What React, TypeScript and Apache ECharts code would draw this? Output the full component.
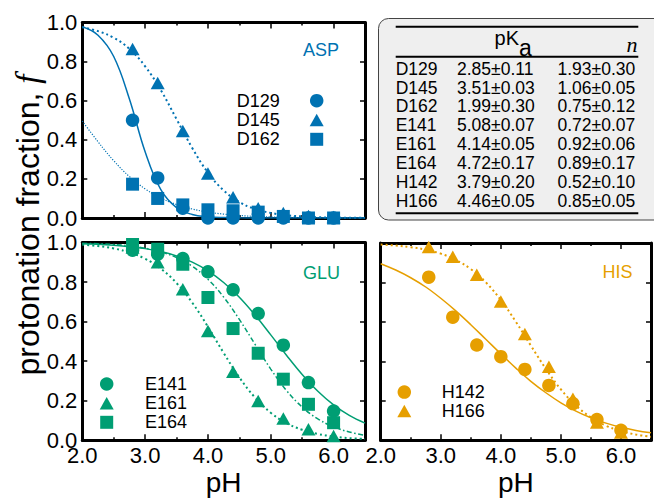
import React, { useEffect, useRef } from 'react';
import * as echarts from 'echarts';

const BLUE = '#0072B2';
const GREEN = '#009E73';
const ORANGE = '#E69F00';
const FONT = '"Liberation Sans", Arial, Helvetica, sans-serif';
const SERIF = '"Liberation Serif", "DejaVu Serif", serif';

// measured pH values of the data points
const phPts = [2.8, 3.2, 3.6, 4.0, 4.4, 4.8, 5.2, 5.6, 6.0];

// ASP
const d129 = [0.5, 0.205, 0.05, 0.0, 0.0, 0.0, 0.0, 0.0, 0.0];
const d145 = [0.865, 0.69, 0.445, 0.227, 0.106, 0.05, 0.025, 0.01, 0.005];
const d162 = [0.173, 0.1, 0.067, 0.042, 0.037, 0.03, 0.008, 0.0, 0.0];
// GLU
const e141 = [0.961, 0.941, 0.919, 0.852, 0.761, 0.641, 0.481, 0.292, 0.148];
const e161 = [0.975, 0.9, 0.764, 0.553, 0.346, 0.199, 0.11, 0.056, 0.022];
const e164 = [0.99, 0.966, 0.89, 0.722, 0.565, 0.44, 0.309, 0.182, 0.089];
// HIS
const h142 = [0.827, 0.624, 0.483, 0.424, 0.359, 0.278, 0.186, 0.105, 0.051];
const h166 = [0.98, 0.93, 0.839, 0.703, 0.539, 0.373, 0.21, 0.09, 0.04];

// fitted curves, read along the pH grid
const fitPH = [2.0, 2.25, 2.5, 2.75, 3.0, 3.25, 3.5, 3.75, 4.0, 4.25, 4.5, 4.75, 5.0, 5.25, 5.5, 5.75, 6.0, 6.25, 6.5];
const d129Fit = [0.978, 0.935, 0.826, 0.609, 0.339, 0.145, 0.053, 0.018, 0.006, 0.002, 0.001, 0.0003, 0.0001, 0, 0, 0, 0, 0, 0];
const d145Fit = [0.976, 0.956, 0.922, 0.865, 0.776, 0.654, 0.506, 0.358, 0.232, 0.141, 0.082, 0.046, 0.026, 0.014, 0.008, 0.004, 0.002, 0.001, 0.001];
const d162Fit = [0.496, 0.39, 0.293, 0.212, 0.149, 0.102, 0.069, 0.046, 0.03, 0.02, 0.013, 0.008, 0.0055, 0.0036, 0.0023, 0.0015, 0.001, 0.0006, 0.0004];
const e141Fit = [0.994, 0.991, 0.986, 0.979, 0.969, 0.954, 0.932, 0.901, 0.857, 0.798, 0.723, 0.633, 0.533, 0.43, 0.333, 0.248, 0.179, 0.126, 0.087];
const e161Fit = [0.989, 0.982, 0.97, 0.95, 0.918, 0.868, 0.795, 0.696, 0.574, 0.442, 0.318, 0.216, 0.139, 0.087, 0.053, 0.032, 0.019, 0.011, 0.007];
const e164Fit = [0.996, 0.994, 0.99, 0.983, 0.971, 0.953, 0.924, 0.88, 0.814, 0.724, 0.611, 0.485, 0.36, 0.252, 0.168, 0.108, 0.068, 0.042, 0.025];
const h142Fit = [0.895, 0.863, 0.824, 0.777, 0.72, 0.656, 0.586, 0.512, 0.438, 0.366, 0.299, 0.241, 0.19, 0.148, 0.114, 0.087, 0.066, 0.05, 0.038];
const h166Fit = [0.992, 0.987, 0.979, 0.966, 0.946, 0.914, 0.868, 0.801, 0.711, 0.601, 0.48, 0.362, 0.258, 0.176, 0.116, 0.074, 0.047, 0.029, 0.018];

// table
const tableNames = ['D129', 'D145', 'D162', 'E141', 'E161', 'E164', 'H142', 'H166'];
const tablePKa = ['2.85±0.11', '3.51±0.03', '1.99±0.30', '5.08±0.07', '4.14±0.05', '4.72±0.17', '3.79±0.20', '4.46±0.05'];
const tableN = ['1.93±0.30', '1.06±0.05', '0.75±0.12', '0.72±0.07', '0.92±0.06', '0.89±0.17', '0.52±0.10', '0.85±0.05'];

const pairs = (xs: number[], ys: number[]) => xs.map((x, i) => [x, ys[i]]);

const GRIDS = [
  { left: 82.3, top: 22.5, width: 282.7, height: 195.5 },
  { left: 82.3, top: 242.5, width: 282.7, height: 197.8 },
  { left: 380.7, top: 243, width: 282.7, height: 197.3 },
];

function xAxis(gridIndex: number, position: string, labels: boolean) {
  return {
    type: 'value',
    gridIndex,
    position,
    min: 2,
    max: 6.5,
    interval: 1,
    axisLine: { show: true, onZero: false, lineStyle: { color: '#000', width: 3 } },
    axisTick: { show: true, inside: true, length: 6, lineStyle: { color: '#000', width: 1.5 } },
    minorTick: { show: true, splitNumber: 2, length: 3, lineStyle: { color: '#000', width: 1.5 } },
    splitLine: { show: false },
    minorSplitLine: { show: false },
    axisLabel: {
      show: labels,
      margin: 7,
      fontSize: 22,
      lineHeight: 16,
      color: '#000',
      fontFamily: FONT,
      formatter: (v: number) => (Math.abs(v - Math.round(v)) < 1e-9 ? v.toFixed(1) : ''),
    },
    name: labels ? 'pH' : '',
    nameLocation: 'middle',
    nameGap: 28,
    nameTextStyle: { fontSize: 28, color: '#000', fontFamily: FONT },
  };
}

function yAxis(gridIndex: number, position: string, labels: boolean) {
  return {
    type: 'value',
    gridIndex,
    position,
    min: 0,
    max: 1,
    interval: 0.2,
    axisLine: { show: true, onZero: false, lineStyle: { color: '#000', width: 3 } },
    axisTick: { show: true, inside: true, length: 5, lineStyle: { color: '#000', width: 1.5 } },
    splitLine: { show: false },
    axisLabel: {
      show: labels,
      margin: 5,
      fontSize: 22,
      lineHeight: 14,
      color: '#000',
      fontFamily: FONT,
      formatter: (v: number) => v.toFixed(1),
    },
  };
}

function curve(ax: number, ys: number[], color: string, type: any, width: number) {
  return {
    type: 'line',
    xAxisIndex: ax * 2,
    yAxisIndex: ax * 2,
    data: pairs(fitPH, ys),
    showSymbol: false,
    symbol: 'none',
    smooth: 0.4,
    lineStyle: { color, width, type, cap: 'butt' },
    z: 2,
    silent: true,
  };
}

function points(ax: number, ys: number[], color: string, symbol: string, size: any, z: number) {
  return {
    type: 'scatter',
    xAxisIndex: ax * 2,
    yAxisIndex: ax * 2,
    data: pairs(phPts, ys),
    symbol,
    symbolSize: size,
    itemStyle: { color, opacity: 1 },
    z,
  };
}

const CIRCLE = 13.5;
const SQUARE = 13;
const TRI: [number, number] = [14, 12.5];

function legendMarker(kind: string, cx: number, cy: number, color: string) {
  if (kind === 'circle') return { type: 'circle', shape: { cx, cy, r: CIRCLE / 2 }, style: { fill: color } };
  if (kind === 'rect')
    return { type: 'rect', shape: { x: cx - SQUARE / 2, y: cy - SQUARE / 2, width: SQUARE, height: SQUARE }, style: { fill: color } };
  return {
    type: 'polygon',
    shape: { points: [[cx, cy - TRI[1] / 2], [cx + TRI[0] / 2, cy + TRI[1] / 2], [cx - TRI[0] / 2, cy + TRI[1] / 2]] },
    style: { fill: color },
  };
}

function txt(x: number, y: number, text: string, opts: any = {}) {
  return {
    type: 'text',
    x,
    y,
    silent: true,
    style: {
      text,
      fill: opts.fill || '#000',
      fontSize: opts.fontSize || 17.5,
      fontFamily: opts.fontFamily || FONT,
      fontStyle: opts.fontStyle || 'normal',
      align: opts.align || 'left',
      verticalAlign: 'middle',
    },
  };
}

function buildGraphic() {
  const g: any[] = [];
  // table box
  g.push({ type: 'rect', shape: { x: 378.5, y: 18.5, width: 300, height: 201.5, r: 10 }, style: { fill: '#efefef', stroke: '#444', lineWidth: 1 } });
  const rule = (y: number) => ({ type: 'line', shape: { x1: 395.7, y1: y, x2: 638.3, y2: y }, style: { stroke: '#000', lineWidth: 2 } });
  g.push(rule(26.7), rule(56.7), rule(213.3));
  g.push(txt(519, 37.5, 'pK', { fontSize: 20, align: 'right' }));
  g.push(txt(519, 47.5, 'a', { fontSize: 23 }));
  g.push(txt(632, 44, 'n', { fontSize: 22, fontFamily: SERIF, fontStyle: 'italic', align: 'center' }));
  tableNames.forEach((nm, i) => {
    const y = 68.7 + i * 18.86;
    g.push(txt(395.7, y, nm, { fontSize: 17.5 }));
    g.push(txt(457, y, tablePKa[i], { fontSize: 17.5 }));
    g.push(txt(557.5, y, tableN[i], { fontSize: 17.5 }));
  });
  // panel labels
  g.push(txt(339, 50, 'ASP', { fill: BLUE, align: 'right', fontSize: 18 }));
  g.push(txt(340, 273.3, 'GLU', { fill: GREEN, align: 'right', fontSize: 18 }));
  g.push(txt(632.5, 271.7, 'HIS', { fill: ORANGE, align: 'right', fontSize: 18 }));
  // legends
  const aspY = [100.7, 120, 139.3];
  const aspNames = ['D129', 'D145', 'D162'];
  const aspSym = ['circle', 'triangle', 'rect'];
  aspNames.forEach((nm, i) => {
    g.push(txt(236.7, aspY[i], nm, { fontSize: 18 }));
    g.push(legendMarker(aspSym[i], 316.7, aspY[i], BLUE));
  });
  const gluY = [384, 403.3, 422.3];
  const gluNames = ['E141', 'E161', 'E164'];
  gluNames.forEach((nm, i) => {
    g.push(txt(145, gluY[i], nm, { fontSize: 18 }));
    g.push(legendMarker(aspSym[i], 106.7, gluY[i], GREEN));
  });
  const hisY = [392.1, 410.9];
  const hisNames = ['H142', 'H166'];
  hisNames.forEach((nm, i) => {
    g.push(txt(441.7, hisY[i], nm, { fontSize: 18 }));
    g.push(legendMarker(aspSym[i], 404.3, hisY[i], ORANGE));
  });
  // y-axis title
  g.push({
    type: 'text',
    x: 28,
    y: 225,
    rotation: Math.PI / 2,
    silent: true,
    style: {
      text: '{a|protonation fraction, }{b|f}',
      align: 'center',
      verticalAlign: 'middle',
      rich: {
        a: { fontSize: 32, fontFamily: FONT, fill: '#000' },
        b: { fontSize: 33, fontFamily: SERIF, fontStyle: 'italic', fill: '#000' },
      },
    },
  });
  return g;
}

export default function App() {
  const ref = useRef<HTMLDivElement>(null);
  useEffect(() => {
    if (!ref.current) return;
    const chart = echarts.init(ref.current, undefined, { renderer: 'svg' });
    const option: any = {
      animation: false,
      backgroundColor: '#fff',
      grid: GRIDS.map((g) => ({ ...g, containLabel: false })),
      xAxis: [
        xAxis(0, 'bottom', false),
        xAxis(0, 'top', false),
        xAxis(1, 'bottom', true),
        xAxis(1, 'top', false),
        xAxis(2, 'bottom', true),
        xAxis(2, 'top', false),
      ],
      yAxis: [
        yAxis(0, 'left', true),
        yAxis(0, 'right', false),
        yAxis(1, 'left', true),
        yAxis(1, 'right', false),
        yAxis(2, 'left', false),
        yAxis(2, 'right', false),
      ],
      series: [
        curve(0, d129Fit, BLUE, 'solid', 1.5),
        curve(0, d145Fit, BLUE, [2, 3], 2),
        curve(0, d162Fit, BLUE, [1.2, 1.5], 1.2),
        points(0, d129, BLUE, 'circle', CIRCLE, 3),
        points(0, d145, BLUE, 'triangle', TRI, 4),
        points(0, d162, BLUE, 'rect', SQUARE, 5),

        curve(1, e141Fit, GREEN, 'solid', 1.5),
        curve(1, e161Fit, GREEN, [2, 3], 2),
        curve(1, e164Fit, GREEN, [5, 2.5, 1.5, 2.5], 1.5),
        points(1, e141, GREEN, 'circle', CIRCLE, 3),
        points(1, e161, GREEN, 'triangle', TRI, 4),
        points(1, e164, GREEN, 'rect', SQUARE, 5),

        curve(2, h142Fit, ORANGE, 'solid', 1.5),
        curve(2, h166Fit, ORANGE, [2, 3], 2),
        points(2, h166, ORANGE, 'triangle', TRI, 3),
        points(2, h142, ORANGE, 'circle', CIRCLE, 4),
      ],
      graphic: buildGraphic(),
    };
    chart.setOption(option);
    return () => chart.dispose();
  }, []);
  return (
    <div
      ref={ref}
      style={{ position: 'fixed', left: 0, top: 0, width: 654, height: 499, overflow: 'hidden', background: '#fff' }}
    />
  );
}
